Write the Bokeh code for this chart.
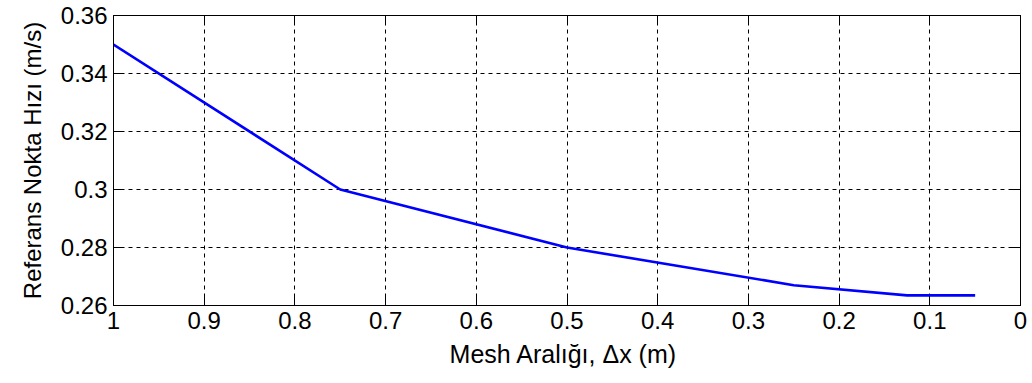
from bokeh.plotting import figure
from bokeh.models import Range1d, FixedTicker, LinearAxis
from bokeh.embed import file_html
from bokeh.resources import INLINE

# data
mesh_dx = [1.0, 0.75, 0.5, 0.25, 0.125, 0.05]
ref_velocity = [0.35, 0.30, 0.28, 0.267, 0.2635, 0.2635]

x_ticks = [1.0, 0.9, 0.8, 0.7, 0.6, 0.5, 0.4, 0.3, 0.2, 0.1, 0.0]
x_tick_labels = ["1", "0.9", "0.8", "0.7", "0.6", "0.5", "0.4", "0.3", "0.2", "0.1", "0"]
y_ticks = [0.26, 0.28, 0.30, 0.32, 0.34, 0.36]
y_tick_labels = ["0.26", "0.28", "0.3", "0.32", "0.34", "0.36"]

x_label = "Mesh Aralığı, Δx  (m)"
y_label = "Referans Nokta Hızı (m/s)"

FONT = "Liberation Sans"

p = figure(width=1032, height=383, output_backend="svg", toolbar_location=None,
           x_range=Range1d(1, 0), y_range=Range1d(0.26, 0.36),
           min_border_left=113, min_border_right=12, min_border_top=15, min_border_bottom=78)
p.background_fill_color = "white"
p.border_fill_color = "white"
p.outline_line_color = "black"
p.outline_line_width = 1

p.line(mesh_dx, ref_velocity, line_color="#0000ff", line_width=2.6)

for ax, ticks, labels in ((p.xaxis[0], x_ticks, x_tick_labels), (p.yaxis[0], y_ticks, y_tick_labels)):
    ax.ticker = FixedTicker(ticks=ticks)
    ax.major_label_overrides = {t: l for t, l in zip(ticks, labels)}
    ax.major_tick_in = 9
    ax.major_tick_out = 0
    ax.minor_tick_in = 0
    ax.minor_tick_out = 0
    ax.axis_line_color = "black"
    ax.major_tick_line_color = "black"
    ax.major_label_text_font = FONT
    ax.major_label_text_font_size = "24px"
    ax.major_label_text_color = "black"
    ax.axis_label_text_font = FONT
    ax.axis_label_text_font_style = "normal"
    ax.axis_label_text_color = "black"
    ax.major_label_standoff = 6

p.xaxis[0].axis_label = x_label
p.yaxis[0].axis_label = y_label
p.xaxis[0].axis_label_text_font_size = "25px"
p.yaxis[0].axis_label_text_font_size = "24px"
p.xaxis[0].axis_label_standoff = 8
p.yaxis[0].axis_label_standoff = 12

# box ticks on top and right (MATLAB style), without labels
top = LinearAxis(ticker=FixedTicker(ticks=x_ticks), major_tick_in=9, major_tick_out=0,
                 minor_tick_in=0, minor_tick_out=0, major_label_text_font_size="1px",
                 major_label_text_color=None, major_label_standoff=0, axis_line_color="black")
right = LinearAxis(ticker=FixedTicker(ticks=y_ticks), major_tick_in=9, major_tick_out=0,
                   minor_tick_in=0, minor_tick_out=0, major_label_text_font_size="1px",
                   major_label_text_color=None, major_label_standoff=0, axis_line_color="black")
p.add_layout(top, "above")
p.add_layout(right, "right")

for g, ticks in ((p.xgrid[0], x_ticks), (p.ygrid[0], y_ticks)):
    g.ticker = FixedTicker(ticks=ticks)
    g.grid_line_color = "black"
    g.grid_line_dash = "4 4"
    g.grid_line_width = 1

open("out.html", "w").write(file_html(p, INLINE))
